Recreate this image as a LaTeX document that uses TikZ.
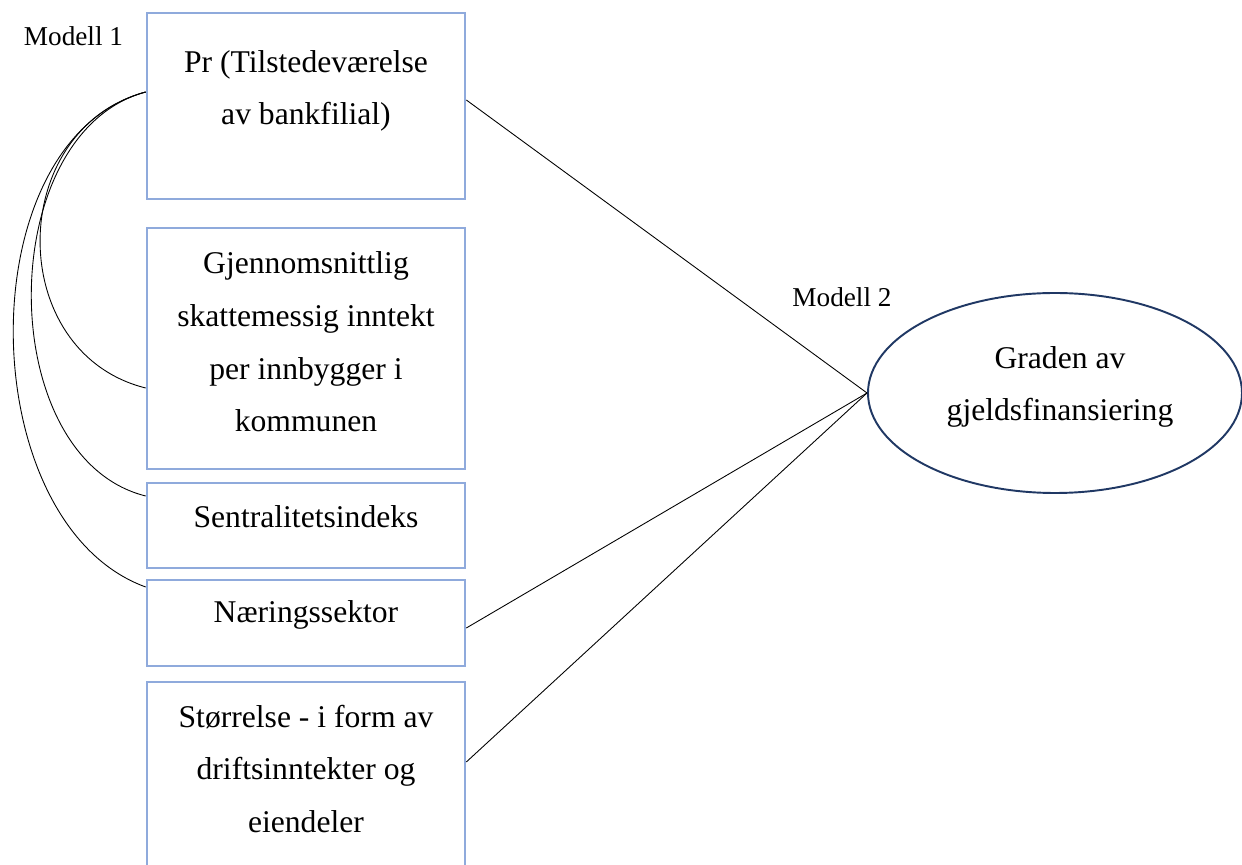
\documentclass[tikz,border=0pt]{standalone}
\usepackage{fontspec}
\setmainfont{Liberation Serif}
\usetikzlibrary{shapes.geometric,positioning}
\definecolor{boxblue}{RGB}{143,170,220}
\definecolor{navy}{RGB}{32,56,100}
\newcommand{\bt}{\fontsize{18}{30}\selectfont}
\newcommand{\mt}{\fontsize{15.5}{18}\selectfont}

\begin{document}
\begin{tikzpicture}[
  box/.style={draw=boxblue,line width=1.5pt,minimum width=6.36cm,inner sep=0pt},
  txt/.style={align=center,font=\bt},
  lnk/.style={line width=0.5pt}]
   \useasboundingbox (0,0) rectangle (24.84,-17.3);
   % boxes on the left
   \node[box,minimum height=3.72cm] (b1) at (6.12,-2.12) {};
   \node[box,minimum height=4.82cm] (b2) at (6.12,-6.97) {};
   \node[box,minimum height=1.70cm] (b3) at (6.12,-10.51) {};
   \node[box,minimum height=1.72cm] (b4) at (6.12,-12.46) {};
   \node[box,minimum height=3.96cm] (b5) at (6.12,-15.62) {};
   \node[txt] (t1) at (6.12,-1.82) {Pr (Tilstedeværelse\\av bankfilial)};
   \node[txt] (t2) at (6.12,-6.84) {Gjennomsnittlig\\skattemessig inntekt\\per innbygger i\\kommunen};
   \node[txt] (t3) at (6.12,-10.34) {Sentralitetsindeks};
   \node[txt] (t4) at (6.12,-12.30) {Næringssektor};
   \node[txt] (t5) at (6.12,-15.38) {Størrelse - i form av\\driftsinntekter og\\eiendeler};
   % dependent variable
   \node[ellipse,draw=navy,line width=1.1pt,minimum width=7.48cm,minimum height=4cm,inner sep=0pt] (g) at (21.1,-7.86) {};
   \node[txt] (tg) at (21.2,-7.74) {Graden av\\gjeldsfinansiering};
   \node[font=\mt] (m1) at (1.47,-0.72) {Modell 1};
   \node[font=\mt] (m2) at (16.84,-5.94) {Modell 2};
   % correlations
   \draw[lnk] ([yshift=0.28cm]b1.west) to[out=195,in=166,looseness=1.26] ([yshift=-0.79cm]b2.west);
   \draw[lnk] ([yshift=0.28cm]b1.west) to[out=195,in=166,looseness=1.0] ([yshift=0.59cm]b3.west);
   \draw[lnk] ([yshift=0.28cm]b1.west) to[out=195,in=160,looseness=0.96] ([yshift=0.72cm]b4.west);
   % paths
   \draw[lnk] ([yshift=0.12cm]b1.east) -- (g.west);
   \draw[lnk] ([yshift=-0.1cm]b4.east) -- (g.west);
   \draw[lnk] ([yshift=0.38cm]b5.east) -- (g.west);
  \end{tikzpicture}
\end{document}
